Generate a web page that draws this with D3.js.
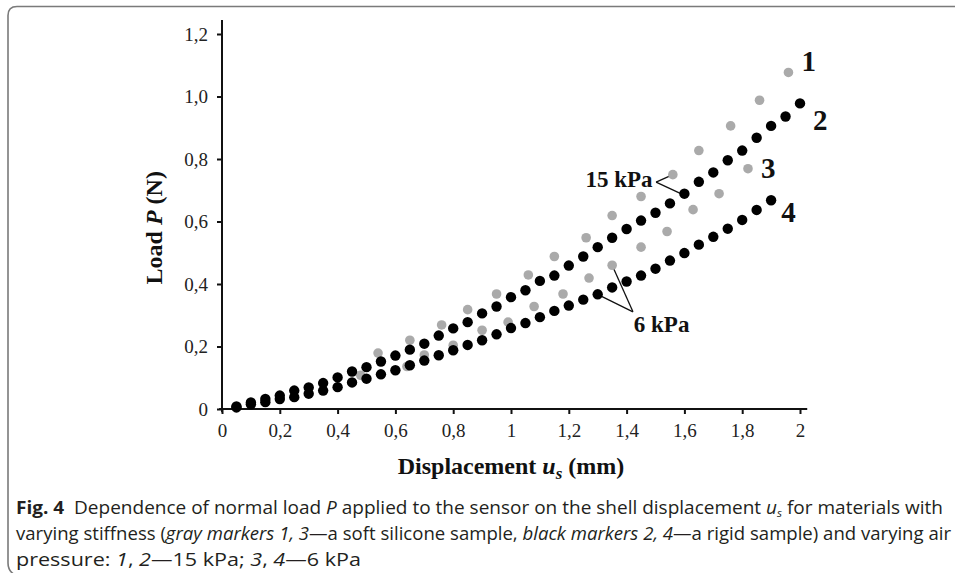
<!DOCTYPE html>
<html>
<head>
<meta charset="utf-8">
<script src="https://cdn.jsdelivr.net/npm/d3@7"></script>
<style>
  body { margin: 0; background: #fff; }
  svg { display: block; }
</style>
</head>
<body>
<div id="chart"></div>
<script>
// ticks
var xTicks = [0, 0.2, 0.4, 0.6, 0.8, 1, 1.2, 1.4, 1.6, 1.8, 2];
var xTickLabels = ["0", "0,2", "0,4", "0,6", "0,8", "1", "1,2", "1,4", "1,6", "1,8", "2"];
var yTicks = [0, 0.2, 0.4, 0.6, 0.8, 1.0, 1.2];
var yTickLabels = ["0", "0,2", "0,4", "0,6", "0,8", "1,0", "1,2"];

// series 2: black markers, 15 kPa (rigid sample)
var s2x = [0.05, 0.10, 0.15, 0.20, 0.25, 0.30, 0.35, 0.40, 0.45, 0.50,
           0.55, 0.60, 0.65, 0.70, 0.75, 0.80, 0.85, 0.90, 0.95, 1.00,
           1.05, 1.10, 1.15, 1.20, 1.25, 1.30, 1.35, 1.40, 1.45, 1.50,
           1.55, 1.60, 1.65, 1.70, 1.75, 1.80, 1.85, 1.90, 1.95, 2.00];
var s2y = [0.008, 0.021, 0.032, 0.043, 0.059, 0.069, 0.083, 0.101, 0.120, 0.134,
           0.152, 0.171, 0.190, 0.209, 0.235, 0.258, 0.278, 0.306, 0.328, 0.358,
           0.380, 0.410, 0.427, 0.459, 0.488, 0.518, 0.548, 0.576, 0.603, 0.628,
           0.658, 0.689, 0.727, 0.757, 0.796, 0.827, 0.868, 0.906, 0.936, 0.978];

// series 4: black markers, 6 kPa (rigid sample)
var s4x = [0.05, 0.10, 0.15, 0.20, 0.25, 0.30, 0.35, 0.40, 0.45, 0.50,
           0.55, 0.60, 0.65, 0.70, 0.75, 0.80, 0.85, 0.90, 0.95, 1.00,
           1.05, 1.10, 1.15, 1.20, 1.25, 1.30, 1.35, 1.40, 1.45, 1.50,
           1.55, 1.60, 1.65, 1.70, 1.75, 1.80, 1.85, 1.90];
var s4y = [0.005, 0.015, 0.022, 0.032, 0.038, 0.049, 0.059, 0.070, 0.085, 0.097,
           0.111, 0.124, 0.140, 0.155, 0.172, 0.188, 0.205, 0.220, 0.239, 0.259,
           0.275, 0.294, 0.314, 0.331, 0.350, 0.367, 0.389, 0.408, 0.427, 0.449,
           0.475, 0.499, 0.526, 0.551, 0.577, 0.605, 0.637, 0.668];

// series 1: gray markers, 15 kPa (soft silicone)
var s1x = [0.54, 0.65, 0.76, 0.85, 0.95, 1.06, 1.15, 1.26, 1.35, 1.45, 1.56, 1.65, 1.76, 1.86, 1.96];
var s1y = [0.179, 0.220, 0.269, 0.318, 0.368, 0.429, 0.488, 0.548, 0.619, 0.680, 0.750, 0.827, 0.906, 0.988, 1.077];

// series 3: gray markers, 6 kPa (soft silicone)
var s3x = [0.48, 0.64, 0.70, 0.80, 0.90, 0.99, 1.08, 1.18, 1.27, 1.35, 1.45, 1.54, 1.63, 1.72, 1.82];
var s3y = [0.108, 0.136, 0.173, 0.204, 0.252, 0.278, 0.328, 0.368, 0.419, 0.460, 0.518, 0.568, 0.638, 0.689, 0.769];

// curve numbers, in data units
var curveLabels = ["1", "2", "3", "4"];
var curveLabelX = [2.03, 2.07, 1.89, 1.96];
var curveLabelY = [1.083, 0.893, 0.740, 0.600];

var width = 955, height = 573;
var serif = "'Liberation Serif', 'Times New Roman', serif";

var svg = d3.select("#chart")
  .append("svg")
    .attr("width", width)
    .attr("height", height);

// frame of the figure panel
svg.append("path")
  .attr("d", "M955,6.5 H17 Q8,6.5 8,15.5 V563 Q8,571 15,575")
  .attr("fill", "none")
  .attr("stroke", "#7a7a7a")
  .attr("stroke-width", 1.6);

var x = d3.scaleLinear().domain([0, 2]).range([222, 800]);
var y = d3.scaleLinear().domain([0, 1.2]).range([409, 34]);

var zip = function(xs, ys) { return xs.map(function(v, i) { return {x: v, y: ys[i]}; }); };

// axes
var xAxis = svg.append("g")
  .attr("transform", "translate(0," + y(0) + ")")
  .call(d3.axisBottom(x).tickValues(xTicks).tickSize(5).tickPadding(10).tickSizeOuter(0)
        .tickFormat(function(d, i) { return xTickLabels[i]; }));
var yAxis = svg.append("g")
  .attr("transform", "translate(" + x(0) + ",0)")
  .call(d3.axisLeft(y).tickValues(yTicks).tickSize(5).tickPadding(9).tickSizeOuter(0)
        .tickFormat(function(d, i) { return yTickLabels[i]; }));

[xAxis, yAxis].forEach(function(a) {
  a.select(".domain").remove();
  a.selectAll(".tick line").attr("stroke", "#111").attr("stroke-width", 2);
  a.selectAll(".tick text")
    .attr("fill", "#222")
    .style("font-family", serif)
    .style("font-size", "19px");
});

// axis lines drawn through the scales
svg.append("line")
  .attr("x1", x(-0.01)).attr("x2", x(2.025))
  .attr("y1", y(0)).attr("y2", y(0))
  .attr("stroke", "#111").attr("stroke-width", 2);
svg.append("line")
  .attr("x1", x(0)).attr("x2", x(0))
  .attr("y1", y(-0.01)).attr("y2", y(1.245))
  .attr("stroke", "#111").attr("stroke-width", 2);

// axis titles
var xt = svg.append("text")
  .attr("x", (x(0) + x(2)) / 2)
  .attr("y", 474)
  .attr("text-anchor", "middle")
  .style("font-family", serif)
  .style("font-size", "24px")
  .style("font-weight", "bold")
  .attr("fill", "#111");
xt.append("tspan").text("Displacement ");
xt.append("tspan").style("font-style", "italic").text("u");
xt.append("tspan").style("font-style", "italic").style("font-size", "17px").attr("dy", 5).text("s");
xt.append("tspan").attr("dy", -5).text(" (mm)");

var yt = svg.append("text")
  .attr("transform", "translate(162," + y(0.58) + ") rotate(-90)")
  .attr("text-anchor", "middle")
  .style("font-family", serif)
  .style("font-size", "24px")
  .style("font-weight", "bold")
  .attr("fill", "#111");
yt.append("tspan").text("Load ");
yt.append("tspan").style("font-style", "italic").text("P");
yt.append("tspan").text(" (N)");

// leader lines for the pressure annotations
var leaders = [
  {from: [1.502, 0.726], to: [1.56, 0.750]},
  {from: [1.502, 0.726], to: [1.595, 0.686]},
  {from: [1.422, 0.311], to: [1.35, 0.460]},
  {from: [1.422, 0.311], to: [1.31, 0.362]}
];
svg.selectAll("myLeaders")
  .data(leaders)
  .enter()
  .append("line")
    .attr("x1", function(d) { return x(d.from[0]); })
    .attr("y1", function(d) { return y(d.from[1]); })
    .attr("x2", function(d) { return x(d.to[0]); })
    .attr("y2", function(d) { return y(d.to[1]); })
    .attr("stroke", "#111")
    .attr("stroke-width", 1.3);

// gray markers first, black on top
var gray = [zip(s1x, s1y), zip(s3x, s3y)];
var black = [zip(s2x, s2y), zip(s4x, s4y)];

svg.selectAll("grayDots")
  .data(d3.merge(gray))
  .enter()
  .append("circle")
    .attr("cx", function(d) { return x(d.x); })
    .attr("cy", function(d) { return y(d.y); })
    .attr("r", 4.8)
    .attr("fill", "#aaaaaa");

svg.selectAll("blackDots")
  .data(d3.merge(black))
  .enter()
  .append("circle")
    .attr("cx", function(d) { return x(d.x); })
    .attr("cy", function(d) { return y(d.y); })
    .attr("r", 5.2)
    .attr("fill", "#000");

// curve numbers
svg.selectAll("curveNums")
  .data(curveLabels)
  .enter()
  .append("text")
    .attr("x", function(d, i) { return x(curveLabelX[i]); })
    .attr("y", function(d, i) { return y(curveLabelY[i]); })
    .attr("text-anchor", "middle")
    .style("font-family", serif)
    .style("font-size", "29px")
    .style("font-weight", "bold")
    .attr("fill", "#111")
    .text(function(d) { return d; });

// pressure annotations
svg.append("text")
  .attr("x", x(1.49)).attr("y", y(0.71))
  .attr("text-anchor", "end")
  .style("font-family", serif).style("font-size", "23px").style("font-weight", "bold")
  .attr("fill", "#111")
  .text("15 kPa");
svg.append("text")
  .attr("x", x(1.425)).attr("y", y(0.248))
  .attr("text-anchor", "start")
  .style("font-family", serif).style("font-size", "23px").style("font-weight", "bold")
  .attr("fill", "#111")
  .text("6 kPa");

// caption (justified lines squeezed to the printed widths)
var sans = "'Open Sans', 'Noto Sans', sans-serif";
var capLines = [
  [{t: "Fig. 4", b: 1}, {t: "  Dependence of normal load "}, {t: "P", i: 1}, {t: " applied to the sensor on the shell displacement "},
   {t: "u", i: 1}, {t: "s", i: 1, sub: 1}, {t: " for materials with", up: 1}],
  [{t: "varying stiffness ("}, {t: "gray markers 1, 3", i: 1}, {t: "—a soft silicone sample, "}, {t: "black markers 2, 4", i: 1},
   {t: "—a rigid sample) and varying air"}],
  [{t: "pressure: "}, {t: "1", i: 1}, {t: ", "}, {t: "2", i: 1}, {t: "—15 kPa; "}, {t: "3", i: 1}, {t: ", "}, {t: "4", i: 1}, {t: "—6 kPa"}]
];
var capBase = [514, 540, 566];
var capLen = [927, 935, 345];

capLines.forEach(function(parts, li) {
  var t = svg.append("text")
    .attr("x", 16)
    .attr("y", capBase[li])
    .attr("textLength", capLen[li])
    .attr("lengthAdjust", "spacingAndGlyphs")
    .style("font-family", sans)
    .style("font-size", "18px")
    .attr("fill", "#231f20")
    .attr("xml:space", "preserve");
  parts.forEach(function(p) {
    var s = t.append("tspan").text(p.t);
    if (p.b) s.style("font-weight", "bold");
    if (p.i) s.style("font-style", "italic");
    if (p.sub) s.attr("dy", 3).style("font-size", "11px");
    if (p.up) s.attr("dy", -3);
  });
});
</script>
</body>
</html>
